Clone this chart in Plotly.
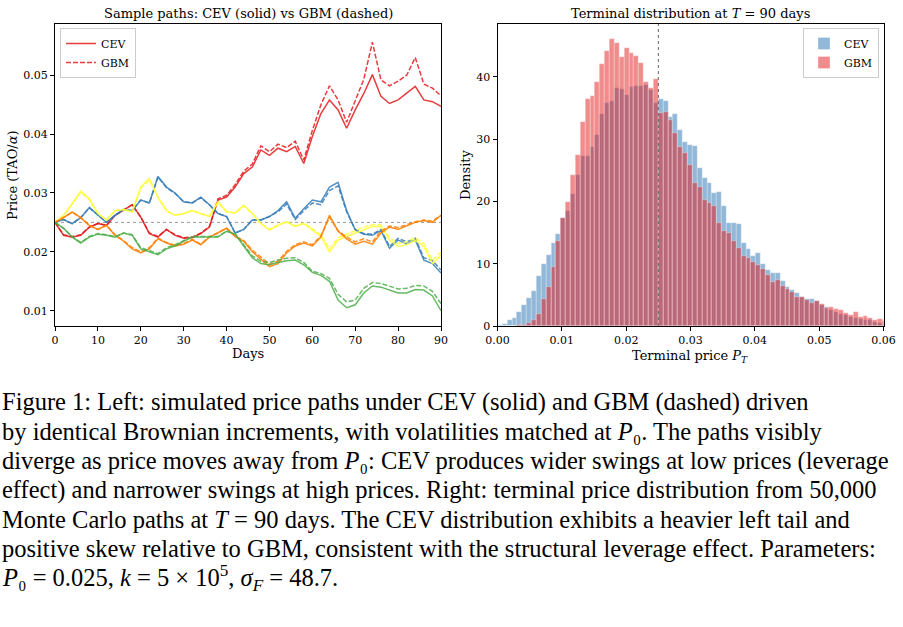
import numpy as np
import plotly.graph_objects as go

# ---- left panel: sample paths, sampled every 2 days ----
days = list(range(0, 91, 2))

red_cev = [0.0250, 0.0228, 0.0225, 0.0228, 0.0242, 0.0248, 0.0245, 0.0262, 0.0271, 0.0280,
           0.0259, 0.0231, 0.0225, 0.0238, 0.0228, 0.0223, 0.0224, 0.0231, 0.0242, 0.0288,
           0.0293, 0.0310, 0.0333, 0.0344, 0.0373, 0.0364, 0.0376, 0.0370, 0.0379, 0.0350,
           0.0396, 0.0435, 0.0458, 0.0441, 0.0410, 0.0441, 0.0469, 0.0501, 0.0464, 0.0452,
           0.0458, 0.0469, 0.0481, 0.0458, 0.0455, 0.0447]
red_gbm = [0.0250, 0.0229, 0.0226, 0.0229, 0.0242, 0.0248, 0.0245, 0.0262, 0.0271, 0.0280,
           0.0259, 0.0232, 0.0226, 0.0238, 0.0229, 0.0224, 0.0225, 0.0232, 0.0243, 0.0290,
           0.0296, 0.0314, 0.0337, 0.0349, 0.0380, 0.0370, 0.0383, 0.0377, 0.0388, 0.0356,
           0.0406, 0.0450, 0.0482, 0.0458, 0.0420, 0.0458, 0.0493, 0.0556, 0.0492, 0.0482,
           0.0490, 0.0500, 0.0530, 0.0485, 0.0478, 0.0465]

blue_cev = [0.0250, 0.0255, 0.0248, 0.0258, 0.0275, 0.0262, 0.0250, 0.0262, 0.0272, 0.0270,
            0.0288, 0.0283, 0.0328, 0.0310, 0.0300, 0.0285, 0.0283, 0.0293, 0.0280, 0.0265,
            0.0260, 0.0232, 0.0238, 0.0254, 0.0254, 0.0260, 0.0270, 0.0285, 0.0257, 0.0273,
            0.0288, 0.0285, 0.0310, 0.0318, 0.0270, 0.0237, 0.0230, 0.0228, 0.0236, 0.0206,
            0.0220, 0.0214, 0.0220, 0.0186, 0.0180, 0.0164]
blue_gbm = [0.0250, 0.0255, 0.0248, 0.0258, 0.0275, 0.0262, 0.0250, 0.0262, 0.0272, 0.0270,
            0.0288, 0.0283, 0.0327, 0.0309, 0.0299, 0.0285, 0.0283, 0.0292, 0.0280, 0.0265,
            0.0260, 0.0232, 0.0238, 0.0254, 0.0254, 0.0260, 0.0268, 0.0281, 0.0255, 0.0270,
            0.0283, 0.0280, 0.0304, 0.0312, 0.0268, 0.0238, 0.0231, 0.0230, 0.0238, 0.0209,
            0.0223, 0.0217, 0.0223, 0.0190, 0.0185, 0.0169]

yellow_cev = [0.0250, 0.0262, 0.0282, 0.0303, 0.0290, 0.0265, 0.0254, 0.0270, 0.0272, 0.0268,
              0.0310, 0.0325, 0.0293, 0.0270, 0.0262, 0.0265, 0.0270, 0.0265, 0.0260, 0.0285,
              0.0268, 0.0266, 0.0279, 0.0265, 0.0248, 0.0237, 0.0245, 0.0251, 0.0243, 0.0248,
              0.0237, 0.0226, 0.0200, 0.0220, 0.0226, 0.0232, 0.0238, 0.0243, 0.0243, 0.0220,
              0.0209, 0.0212, 0.0220, 0.0209, 0.0180, 0.0194]
yellow_gbm = [0.0250, 0.0262, 0.0281, 0.0301, 0.0289, 0.0265, 0.0254, 0.0270, 0.0272, 0.0268,
              0.0308, 0.0322, 0.0292, 0.0270, 0.0262, 0.0265, 0.0270, 0.0265, 0.0260, 0.0284,
              0.0268, 0.0266, 0.0278, 0.0265, 0.0248, 0.0238, 0.0246, 0.0251, 0.0244, 0.0249,
              0.0239, 0.0229, 0.0205, 0.0224, 0.0230, 0.0236, 0.0242, 0.0246, 0.0246, 0.0224,
              0.0214, 0.0217, 0.0224, 0.0214, 0.0186, 0.0199]

orange_cev = [0.0250, 0.0258, 0.0268, 0.0258, 0.0245, 0.0238, 0.0245, 0.0228, 0.0218, 0.0205,
              0.0198, 0.0205, 0.0222, 0.0215, 0.0210, 0.0213, 0.0220, 0.0212, 0.0225, 0.0232,
              0.0240, 0.0226, 0.0218, 0.0200, 0.0188, 0.0175, 0.0180, 0.0198, 0.0210, 0.0215,
              0.0210, 0.0225, 0.0262, 0.0235, 0.0222, 0.0213, 0.0218, 0.0213, 0.0232, 0.0242,
              0.0238, 0.0244, 0.0250, 0.0253, 0.0250, 0.0262]
orange_gbm = [0.0250, 0.0258, 0.0267, 0.0258, 0.0245, 0.0238, 0.0245, 0.0229, 0.0219, 0.0207,
              0.0200, 0.0207, 0.0223, 0.0216, 0.0211, 0.0214, 0.0221, 0.0213, 0.0226, 0.0232,
              0.0240, 0.0227, 0.0219, 0.0203, 0.0191, 0.0179, 0.0184, 0.0201, 0.0212, 0.0217,
              0.0212, 0.0227, 0.0259, 0.0236, 0.0225, 0.0217, 0.0222, 0.0217, 0.0235, 0.0244,
              0.0241, 0.0246, 0.0251, 0.0254, 0.0252, 0.0262]

green_cev = [0.0250, 0.0240, 0.0225, 0.0215, 0.0225, 0.0230, 0.0228, 0.0225, 0.0232, 0.0228,
             0.0205, 0.0200, 0.0195, 0.0205, 0.0210, 0.0218, 0.0225, 0.0225, 0.0225, 0.0225,
             0.0235, 0.0230, 0.0210, 0.0190, 0.0180, 0.0178, 0.0182, 0.0185, 0.0186, 0.0178,
             0.0165, 0.0160, 0.0150, 0.0118, 0.0105, 0.0110, 0.0130, 0.0142, 0.0140, 0.0135,
             0.0130, 0.0130, 0.0136, 0.0135, 0.0125, 0.0100]
green_gbm = [0.0250, 0.0240, 0.0226, 0.0216, 0.0226, 0.0231, 0.0229, 0.0226, 0.0232, 0.0229,
             0.0207, 0.0202, 0.0197, 0.0207, 0.0212, 0.0219, 0.0226, 0.0226, 0.0226, 0.0226,
             0.0235, 0.0231, 0.0212, 0.0193, 0.0184, 0.0182, 0.0186, 0.0189, 0.0190, 0.0182,
             0.0167, 0.0163, 0.0155, 0.0128, 0.0115, 0.0118, 0.0138, 0.0148, 0.0146, 0.0141,
             0.0137, 0.0138, 0.0143, 0.0142, 0.0133, 0.0112]

# ---- right panel: terminal density histograms (bin heights) ----
P0 = 0.025
bin_width = P0 / 33
cev_density = [0.2, 0.4, 1.0, 1.3, 2.2, 3.4, 4.5, 5.6, 8.1, 9.9,
               11.4, 13.4, 14.8, 17.4, 18.4, 21.2, 24.3, 27.3, 27.3, 28.7,
               30.7, 34.1, 35.8, 36.2, 38.3, 38.0, 37.1, 38.4, 38.6, 38.5,
               38.7, 37.9, 35.8, 36.4, 36.2, 33.6, 34.0, 31.5, 29.6, 29.0,
               28.9, 25.4, 23.8, 23.0, 21.4, 21.6, 19.2, 16.6, 16.5, 16.4,
               13.4, 12.4, 11.2, 11.8, 10.0, 9.0, 8.5, 8.5, 7.2, 6.3,
               5.8, 5.3, 4.6, 4.4, 4.4, 4.0, 3.4, 3.0, 2.6, 2.2,
               1.9, 1.7, 1.4, 1.3, 1.1, 1.0, 0.9, 0.7, 0.5, 0.6]
gbm_density = [0.0, 0.0, 0.0, 0.05, 0.1, 0.2, 0.5, 0.9, 2.0, 4.4,
               6.3, 9.5, 13.7, 17.4, 19.9, 24.2, 27.5, 32.8, 36.5, 36.9,
               39.2, 42.1, 44.2, 46.1, 45.5, 43.2, 44.7, 43.9, 43.4, 42.3,
               39.2, 38.2, 39.6, 34.2, 34.4, 33.1, 31.0, 28.8, 27.8, 25.9,
               22.9, 22.3, 20.3, 19.7, 19.3, 16.6, 15.2, 14.9, 13.6, 12.5,
               11.2, 11.0, 10.2, 9.8, 9.1, 8.2, 7.0, 7.4, 6.5, 5.9,
               5.5, 4.6, 4.6, 4.1, 3.7, 3.95, 3.58, 2.83, 3.05, 2.7,
               2.6, 2.08, 1.8, 2.3, 1.44, 1.65, 1.33, 1.0, 1.1, 1.0]
bin_left = np.arange(len(cev_density)) * bin_width

caption = [
    "Figure 1: Left: simulated price paths under CEV (solid) and GBM (dashed) driven",
    "by identical Brownian increments, with volatilities matched at <i>P</i>₀. The paths visibly",
    "diverge as price moves away from <i>P</i>₀: CEV produces wider swings at low prices (leverage",
    "effect) and narrower swings at high prices. Right: terminal price distribution from 50,000",
    "Monte Carlo paths at <i>T</i> = 90 days. The CEV distribution exhibits a heavier left tail and",
    "positive skew relative to GBM, consistent with the structural leverage effect. Parameters:",
    "<i>P</i>₀ = 0.025, <i>k</i> = 5 × 10<sup>5</sup>, <i>σ<sub>F</sub></i> = 48.7.",
]

W, H = 903, 627
SERIF = "DejaVu Serif"

fig = go.Figure()

paths = [("#e41a1c", red_cev, red_gbm), ("#377eb8", blue_cev, blue_gbm),
         ("#ffff33", yellow_cev, yellow_gbm), ("#ff7f00", orange_cev, orange_gbm),
         ("#4daf4a", green_cev, green_gbm)]
for i, (col, cev, gbm) in enumerate(paths):
    fig.add_trace(go.Scatter(x=days, y=cev, mode="lines", name="CEV",
                             line=dict(color=col, width=1.5), opacity=0.85,
                             showlegend=(i == 0), legend="legend"))
    fig.add_trace(go.Scatter(x=days, y=gbm, mode="lines", name="GBM",
                             line=dict(color=col, width=1.5, dash="5px,2px"), opacity=0.85,
                             showlegend=(i == 0), legend="legend"))

fig.add_trace(go.Bar(x=bin_left, y=cev_density, width=bin_width, offset=0, name="CEV",
                     marker=dict(color="rgba(55,126,184,0.55)",
                                 line=dict(color="rgba(255,255,255,0.6)", width=0.5)),
                     xaxis="x2", yaxis="y2", legend="legend2"))
fig.add_trace(go.Bar(x=bin_left, y=gbm_density, width=bin_width, offset=0, name="GBM",
                     marker=dict(color="rgba(228,26,28,0.5)",
                                 line=dict(color="rgba(255,255,255,0.6)", width=0.5)),
                     xaxis="x2", yaxis="y2", legend="legend2"))

# reference lines at P0
fig.add_shape(type="line", xref="x", yref="y", x0=0, x1=90, y0=P0, y1=P0,
              line=dict(color="#999999", width=1, dash="dot"), layer="below")
fig.add_shape(type="line", xref="x2", yref="y2", x0=P0, x1=P0, y0=0, y1=48.5,
              line=dict(color="#666666", width=1, dash="dot"))

axis_style = dict(showline=True, mirror=True, linecolor="black", linewidth=1,
                  ticks="outside", ticklen=4, tickcolor="black", showgrid=False,
                  zeroline=False, automargin=False,
                  tickfont=dict(family=SERIF, size=11, color="black"))

def px_x(p):
    return p / W

def px_y(p):
    return 1 - p / H

fig.update_layout(
    template="none",
    width=W, height=H, margin=dict(l=0, r=0, t=0, b=0, pad=0), autosize=False,
    paper_bgcolor="white", plot_bgcolor="white", barmode="overlay", bargap=0,
    font=dict(family=SERIF, color="black"),
    xaxis=dict(domain=[px_x(55), px_x(441)], range=[0, 90], tickvals=list(range(0, 91, 10)),
               anchor="y", **axis_style),
    yaxis=dict(domain=[px_y(326), px_y(24)], range=[0.0074, 0.0587],
               tickvals=[0.01, 0.02, 0.03, 0.04, 0.05], tickformat=".2f", anchor="x", **axis_style),
    xaxis2=dict(domain=[px_x(497.5), px_x(883.5)], range=[0, 0.06],
                tickvals=[0, 0.01, 0.02, 0.03, 0.04, 0.05, 0.06], tickformat=".2f",
                anchor="y2", **axis_style),
    yaxis2=dict(domain=[px_y(326), px_y(24)], range=[0, 48.5], tickvals=[0, 10, 20, 30, 40],
                anchor="x2", **axis_style),
    legend=dict(x=px_x(60), y=px_y(28), xanchor="left", yanchor="top",
                bgcolor="rgba(255,255,255,0.8)", bordercolor="#cccccc", borderwidth=1,
                font=dict(family=SERIF, size=11), itemwidth=30, tracegroupgap=0),
    legend2=dict(x=px_x(879), y=px_y(28), xanchor="right", yanchor="top",
                 bgcolor="rgba(255,255,255,0.8)", bordercolor="#cccccc", borderwidth=1,
                 font=dict(family=SERIF, size=11), itemwidth=30),
)

ann = [
    dict(text="Sample paths: CEV (solid) vs GBM (dashed)", x=px_x(248), y=px_y(13), size=13),
    dict(text="Terminal distribution at <i>T</i> = 90 days", x=px_x(690), y=px_y(13), size=13),
    dict(text="Days", x=px_x(248), y=px_y(354), size=13),
    dict(text="Terminal price <i>P<sub>T</sub></i>", x=px_x(690), y=px_y(356), size=13),
]
for a in ann:
    fig.add_annotation(text=a["text"], x=a["x"], y=a["y"], xref="paper", yref="paper",
                       showarrow=False, xanchor="center", yanchor="middle",
                       font=dict(family=SERIF, size=a["size"], color="black"))
fig.add_annotation(text="Price (TAO/<i>α</i>)", x=px_x(13), y=px_y(175), xref="paper",
                   yref="paper", showarrow=False, textangle=-90, xanchor="center",
                   yanchor="middle", font=dict(family=SERIF, size=13, color="black"))
fig.add_annotation(text="Density", x=px_x(466), y=px_y(175), xref="paper",
                   yref="paper", showarrow=False, textangle=-90, xanchor="center",
                   yanchor="middle", font=dict(family=SERIF, size=13, color="black"))

for i, line in enumerate(caption):
    fig.add_annotation(text=line, x=0, y=px_y(402 + 29.3 * i), xref="paper", yref="paper",
                       showarrow=False, xanchor="left", yanchor="middle", align="left",
                       font=dict(family="Liberation Serif", size=24.5, color="black"))

fig.write_html("out.html", config={"displayModeBar": False},
               post_script="document.body.style.margin = '0';")
